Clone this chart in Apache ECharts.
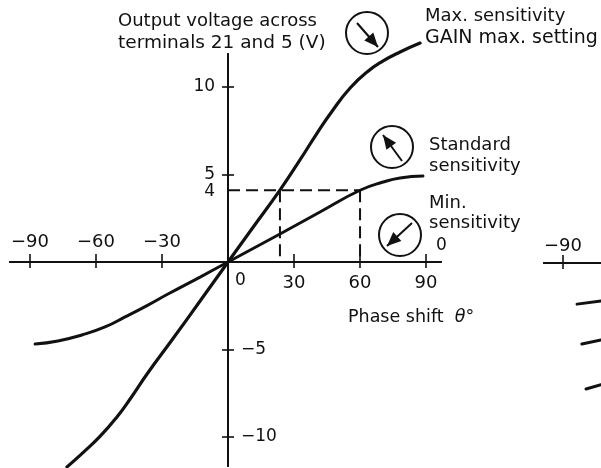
<!DOCTYPE html>
<html>
<head>
<meta charset="utf-8">
<style>html,body{margin:0;padding:0;background:#fff}#c{width:601px;height:468px}</style>
<script src="https://cdn.jsdelivr.net/npm/echarts@6/dist/echarts.min.js"></script>
</head>
<body>
<div id="c"></div>
<script>
// ---- data (phase shift in degrees, output in volts) ----
const maxSensitivity = [[-73.2,-11.71],[-65.9,-10.89],[-58.2,-9.97],[-50.5,-8.86],[-44.5,-7.83],[-36.8,-6.4],[-25.5,-4.46],[-12.7,-2.23],[0,0],[11.8,2.06],[23.6,4.11],[32.7,5.83],[40.5,7.37],[47.7,8.69],[55.5,9.94],[63.2,10.86],[70.5,11.49],[78.2,12],[87.3,12.51]];
const stdSensitivity = [[-87.7,-4.69],[-77.3,-4.51],[-66.4,-4.17],[-55.9,-3.71],[-46.8,-3.14],[-36.4,-2.46],[-27.3,-1.83],[-12.7,-0.86],[0,0],[23.6,1.6],[41.8,2.86],[60,4.1],[70.5,4.57],[78.2,4.8],[88.6,4.91]];
const dashedLevel = [[0,4.1],[60,4.1]];
const dashedDrop1 = [[23.6,4.1],[23.6,0]];
const dashedDrop2 = [[60,4.1],[60,0]];
const panel2Stub1 = [[-83.6,-2.35],[-72.7,-2.17]];
const panel2Stub2 = [[-81.4,-4.63],[-72.7,-4.4]];
const panel2Stub3 = [[-79.5,-7.2],[-72.7,-6.96]];
const xTicks = [-90,-60,-30,30,60,90];
const xLabelsBelow = [30,60,90];
const xLabelsAbove = [-90,-60,-30];
const yTicks = [10,5,-5,-10];
const yLabelsLeft = [10,5,4];
const yLabelsRight = [-5,-10];
const panel2Ticks = [-90];

// ---- style ----
const INK = '#111';
const FONT = '"DejaVu Sans"';
const pxNum = v => String(v).replace('-', '\u2212');
const axisLine = { show:true, onZero:true, lineStyle:{ color:INK, width:2 } };

function xAxisDef(gridIndex, min, max, ticks, position, len) {
  return { type:'value', gridIndex, min, max, position, silent:true, splitLine:{show:false},
    axisLine,
    axisTick:{ show:true, customValues:ticks, inside:false, length:len, lineStyle:{color:INK,width:1.6} },
    axisLabel:{ show:false } };
}
function yAxisDef(gridIndex, min, max, ticks, position, len, show) {
  return { type:'value', gridIndex, min, max, position, show, silent:true, splitLine:{show:false},
    axisLine,
    axisTick:{ show:true, customValues:ticks, inside:false, length:len, lineStyle:{color:INK,width:1.6} },
    axisLabel:{ show:false } };
}
function lineSeries(data, width, extra) {
  return Object.assign({ type:'line', data, showSymbol:false, symbol:'none', clip:false, silent:true,
    xAxisIndex:0, yAxisIndex:0, smooth:0.5,
    lineStyle:{ color:INK, width, cap:'round' } }, extra||{});
}
function dashSeries(data) {
  return lineSeries(data, 2, { smooth:false, lineStyle:{ color:INK, width:2, type:[12,6] } });
}
function stubSeries(data) {
  return lineSeries(data, 3, { smooth:false, xAxisIndex:2, yAxisIndex:2 });
}
// tick labels are placed through the axes' own scales, on a symbol-less scatter series
function tickLabelSeries(points, position, distance, xi, yi, size) {
  return { type:'scatter', data:points, symbolSize:0, silent:true, clip:false,
    xAxisIndex:xi, yAxisIndex:yi, itemStyle:{opacity:1},
    label:{ show:true, position, distance, color:INK, opacity:1, fontFamily:FONT, fontSize:size,
      formatter:p => pxNum(Math.abs(p.value[0])>0 ? p.value[0] : p.value[1]) } };
}

// ---- annotations ----
const texts = [
  ['Output voltage across',118,21,18],
  ['terminals 21 and 5 (V)',118,43,18.5],
  ['Max. sensitivity',425,16,18],
  ['GAIN max. setting',425,38,19],
  ['Standard',429,145,18],
  ['sensitivity',429,166,18],
  ['Min.',429,203,18],
  ['sensitivity',429,223,18],
  ['0',436,246,17],
  ['0',235,281,17],
  ['Phase shift  {i|\u03b8}\u00b0',348,317,17.5]
];
const dials = [
  { c:[367,33], from:[357,23], to:[378,47] },
  { c:[392,147], from:[402,161], to:[383,135] },
  { c:[400,235], from:[412,223], to:[387,246] }
];
const graphics = [];
texts.forEach(t => graphics.push({ type:'text', x:t[1], y:t[2], silent:true,
  style:{ text:t[0], fill:INK, font:t[3]+'px '+FONT, verticalAlign:'middle',
    rich:{ i:{ fontStyle:'italic', fontFamily:FONT, fontSize:t[3], fill:INK } } } }));
dials.forEach(d => {
  graphics.push({ type:'circle', shape:{cx:d.c[0],cy:d.c[1],r:21}, silent:true, style:{fill:'none',stroke:INK,lineWidth:2} });
  graphics.push({ type:'line', shape:{x1:d.from[0],y1:d.from[1],x2:d.to[0],y2:d.to[1]}, silent:true, style:{stroke:INK,lineWidth:2} });
  const dx=d.to[0]-d.from[0], dy=d.to[1]-d.from[1], L=Math.hypot(dx,dy), ux=dx/L, uy=dy/L;
  const bx=d.to[0]-ux*14, by=d.to[1]-uy*14;
  graphics.push({ type:'polygon', silent:true, style:{fill:INK},
    shape:{points:[d.to,[bx-uy*6,by+ux*6],[bx+uy*6,by-ux*6]]} });
});

const chart = echarts.init(document.getElementById('c'), null, { renderer:'canvas' });
chart.setOption({
  animation:false,
  backgroundColor:'#fff',
  grid:[
    { left:10, right:160, top:54, bottom:2, outerBoundsMode:'none', containLabel:false },
    { left:544, right:0, top:55, bottom:1, outerBoundsMode:'none', containLabel:false }
  ],
  xAxis:[
    xAxisDef(0,-99.1,96.8,xTicks,'bottom',6),
    xAxisDef(0,-99.1,96.8,xTicks,'top',8),
    xAxisDef(1,-98.64,-72.7,panel2Ticks,'bottom',6),
    xAxisDef(1,-98.64,-72.7,panel2Ticks,'top',8)
  ],
  yAxis:[
    yAxisDef(0,-11.657,11.886,yTicks,'left',6,true),
    yAxisDef(0,-11.657,11.886,yTicks,'right',6,true),
    yAxisDef(1,-11.657,11.886,[],'left',0,false),
    yAxisDef(1,-11.657,11.886,[],'right',0,false)
  ],
  series:[
    lineSeries(maxSensitivity,3.2),
    lineSeries(stdSensitivity,3),
    dashSeries(dashedLevel),
    dashSeries(dashedDrop1),
    dashSeries(dashedDrop2),
    stubSeries(panel2Stub1),
    stubSeries(panel2Stub2),
    stubSeries(panel2Stub3),
    tickLabelSeries(xLabelsBelow.map(v=>[v,0]),'bottom',12,0,0,18),
    tickLabelSeries(xLabelsAbove.map(v=>[v,0]),'top',11,0,0,18),
    tickLabelSeries(yLabelsLeft.map(v=>[0,v]),'left',13,0,0,17),
    tickLabelSeries(yLabelsRight.map(v=>[0,v]),'right',13,0,0,17),
    tickLabelSeries(panel2Ticks.map(v=>[v,0]),'top',8,2,2,18)
  ],
  graphic:graphics
});
</script>
</body>
</html>
